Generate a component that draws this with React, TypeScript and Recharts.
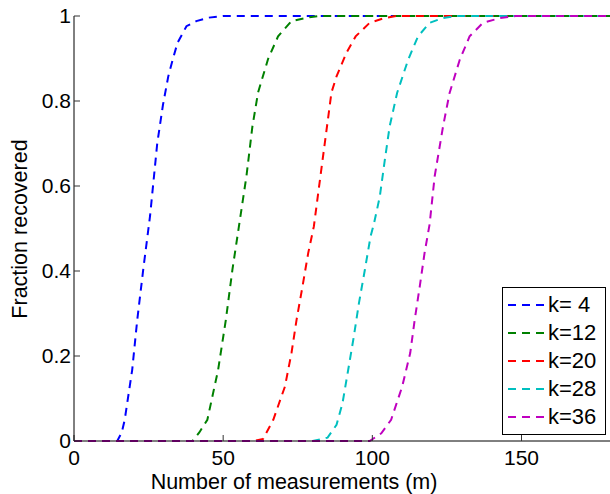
import React from 'react';
import { LineChart, Line, XAxis, YAxis } from 'recharts';

const FONT = '"Liberation Sans", Arial, Helvetica, sans-serif';

const xTicks = [0, 50, 100, 150];
const yTicks = [0, 0.2, 0.4, 0.6, 0.8, 1];

// k = 4
const mK4 = [0, 14.5, 16, 17, 19.5, 21.2, 23.2, 25.5, 27.9, 29.8, 31.6, 33.2, 34.7, 37.7, 41, 45, 50, 180];
const fK4 = [0, 0, 0.02, 0.05, 0.167, 0.285, 0.403, 0.53, 0.7, 0.79, 0.858, 0.9, 0.937, 0.976, 0.988, 0.996, 1, 1];

// k = 12
const mK12 = [0, 39.7, 42, 44.7, 48.3, 50.9, 53.1, 55.6, 57.8, 59.8, 61.7, 65.1, 68.4, 72.9, 78, 82, 180];
const fK12 = [0, 0, 0.02, 0.05, 0.167, 0.285, 0.403, 0.52, 0.623, 0.74, 0.82, 0.9, 0.952, 0.988, 0.996, 1, 1];

// k = 20
const mK20 = [0, 60, 63.4, 66.8, 70.7, 72.9, 74.6, 76.6, 78.5, 80.4, 82.6, 84.8, 86.3, 88, 91.3, 94.4, 99.1, 104, 108, 180];
const fK20 = [0, 0, 0.005, 0.05, 0.128, 0.207, 0.285, 0.364, 0.442, 0.505, 0.623, 0.74, 0.82, 0.858, 0.913, 0.952, 0.984, 0.995, 1, 1];

// k = 28
const mK28 = [0, 80, 85, 88, 90, 91.9, 93.8, 95.5, 97.5, 99.4, 100.5, 102.5, 104.2, 105.8, 108.3, 112, 115.3, 119.2, 123.6, 128, 180];
const fK28 = [0, 0, 0.008, 0.038, 0.089, 0.167, 0.246, 0.324, 0.403, 0.481, 0.51, 0.575, 0.662, 0.74, 0.819, 0.897, 0.952, 0.984, 0.995, 1, 1];

// k = 36
const mK36 = [0, 99.1, 103, 106.3, 110, 112.7, 114.2, 115.9, 117.5, 119.2, 120.9, 123.7, 125.9, 129.3, 132.6, 137.1, 142.7, 148, 180];
const fK36 = [0, 0, 0.018, 0.05, 0.128, 0.207, 0.285, 0.364, 0.442, 0.51, 0.623, 0.74, 0.819, 0.897, 0.952, 0.984, 0.995, 1, 1];

const toPoints = (m: number[], f: number[]) => m.map((v, i) => ({ m: v, f: f[i] }));

const series = [
  { name: 'k= 4', color: '#0000FF', data: toPoints(mK4, fK4) },
  { name: 'k=12', color: '#008000', data: toPoints(mK12, fK12) },
  { name: 'k=20', color: '#FF0000', data: toPoints(mK20, fK20) },
  { name: 'k=28', color: '#00BFBF', data: toPoints(mK28, fK28) },
  { name: 'k=36', color: '#BF00BF', data: toPoints(mK36, fK36) },
];

const YLabel = () => (
  <text
    x={27}
    y={229}
    transform="rotate(-90 27 229)"
    textAnchor="middle"
    fill="#000"
    fontSize={21.5}
    fontFamily={FONT}
  >
    Fraction recovered
  </text>
);

const XLabel = () => (
  <text x={294} y={489} textAnchor="middle" fill="#000" fontSize={21.5} fontFamily={FONT}>
    Number of measurements (m)
  </text>
);

const LegendBox = () => (
  <div
    style={{
      position: 'absolute',
      left: 502,
      top: 287,
      boxSizing: 'border-box',
      width: 104,
      height: 148,
      border: '1.5px solid #000',
      background: '#fff',
      padding: '2.5px 0',
      fontFamily: FONT,
      fontSize: 22,
      color: '#000',
    }}
  >
    {series.map((s) => (
      <div key={s.name} style={{ display: 'flex', alignItems: 'center', height: 28, paddingLeft: 5 }}>
        <svg width={37} height={28}>
          <line x1={0} y1={14} x2={37} y2={14} stroke={s.color} strokeWidth={2} strokeDasharray="8 6" />
        </svg>
        <span style={{ marginLeft: 3, whiteSpace: 'pre', lineHeight: '28px' }}>{s.name}</span>
      </div>
    ))}
  </div>
);

export default function App() {
  const tickStyle = { fill: '#000', fontSize: 21, fontFamily: FONT };
  return (
    <div style={{ position: 'absolute', left: 0, top: 0, width: 610, height: 494, background: '#fff' }}>
      <LineChart width={610} height={494} margin={{ top: 16, right: -1, bottom: 0, left: 0 }}>
        <XAxis
          type="number"
          dataKey="m"
          domain={[0, 180]}
          ticks={xTicks}
          height={53}
          tickSize={-6}
          tickMargin={15}
          axisLine={{ stroke: '#000', strokeWidth: 1 }}
          tickLine={{ stroke: '#333' }}
          tick={tickStyle}
          label={<XLabel />}
        />
        <YAxis
          type="number"
          dataKey="f"
          domain={[0, 1]}
          ticks={yTicks}
          width={74}
          tickSize={-6}
          tickMargin={9}
          axisLine={{ stroke: '#000', strokeWidth: 1 }}
          tickLine={{ stroke: '#333' }}
          tick={tickStyle}
          label={<YLabel />}
        />
        {series.map((s) => (
          <Line
            key={s.name}
            data={s.data}
            dataKey="f"
            name={s.name}
            type="linear"
            stroke={s.color}
            strokeWidth={2}
            strokeDasharray="8 6"
            dot={false}
            activeDot={false}
            isAnimationActive={false}
          />
        ))}
      </LineChart>
      <LegendBox />
    </div>
  );
}
